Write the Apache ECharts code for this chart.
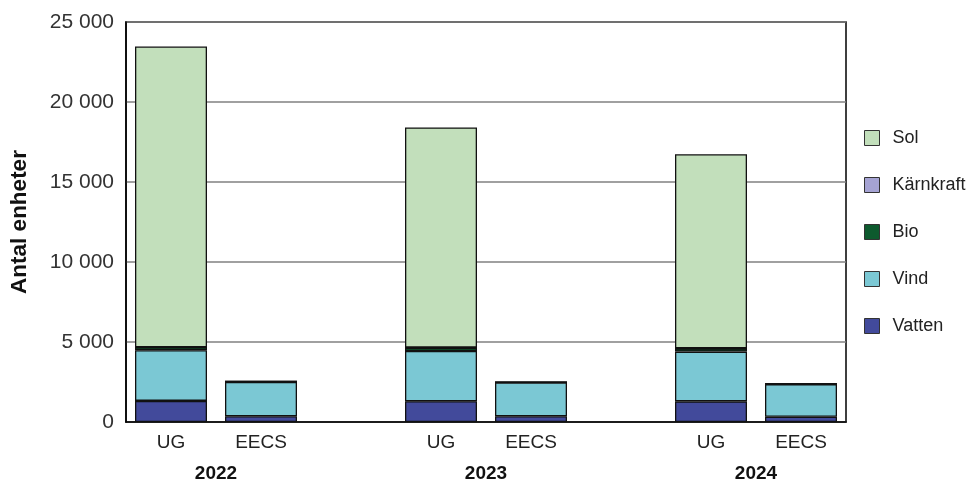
<!DOCTYPE html>
<html><head><meta charset="utf-8">
<script src="https://cdn.jsdelivr.net/npm/echarts@6/dist/echarts.min.js"></script>
<style>html,body{margin:0;padding:0;background:#fff}#c{width:977px;height:483px}</style>
</head><body><div id="c"></div>
<script>
const categories = ['UG','EECS','','UG','EECS','','UG','EECS'];
const years = ['2022','2023','2024'];
const yearSlots = [1,4,7];
const vatten    = [1320, 355, null, 1300, 355, null, 1290, 330];
const vind      = [3160, 2155, null, 3140, 2115, null, 3110, 2035];
const bio       = [190, 20, null, 210, 20, null, 200, 20];
const karnkraft = [0, 0, null, 0, 0, null, 0, 0];
const sol       = [18800, 0, null, 13760, 0, null, 12130, 0];
const yTicks = [0, 5000, 10000, 15000, 20000, 25000];

const font = 'Liberation Sans, Arial, Helvetica, sans-serif';
const colors = {Sol:'#c2dfbb', 'Kärnkraft':'#a5a3d3', Bio:'#0d5a2e', Vind:'#7bc8d4', Vatten:'#424a9b'};
function s(name, data){
  return {name, type:'bar', stack:'a', data, barWidth:'80%',
    itemStyle:{color:colors[name], borderColor:'#111', borderWidth:1.3}};
}
const chart = echarts.init(document.getElementById('c'));
chart.setOption({
  animation:false,
  grid:{left:123, right:131, top:22, bottom:59, show:true, borderColor:'#000', borderWidth:1.5},
  legend:{orient:'vertical', left:859, top:124, itemGap:29, itemWidth:15, itemHeight:15,
    data:['Sol','Kärnkraft','Bio','Vind','Vatten'],
    textStyle:{fontFamily:font, fontSize:18, color:'#222', padding:[0,0,0,8]},
    icon:'rect', itemStyle:{borderColor:'#333', borderWidth:1}},
  xAxis:[{type:'category', data:categories,
    axisLine:{lineStyle:{color:'#000', width:1.5}}, axisTick:{show:false},
    axisLabel:{fontFamily:font, fontSize:19, color:'#222', margin:11}},
   {type:'value', position:'bottom', min:0, max:8, interval:1, offset:34,
    axisLine:{show:false}, axisTick:{show:false}, splitLine:{show:false},
    axisLabel:{fontFamily:font, fontSize:19, fontWeight:'bold', color:'#111',
      showMinLabel:true, showMaxLabel:true,
      formatter:v=>{const i=yearSlots.indexOf(v);return i>=0?years[i]:'';}}}],
  yAxis:{type:'value', min:0, max:25000, interval:5000,
    name:'Antal enheter', nameLocation:'middle', nameGap:95,
    nameTextStyle:{fontFamily:font, fontSize:22.5, fontWeight:'bold', color:'#111'},
    axisLine:{show:true, lineStyle:{color:'#000', width:1.5}}, axisTick:{show:false},
    splitLine:{lineStyle:{color:'#808080', width:1.5}},
    axisLabel:{fontFamily:font, fontSize:21, color:'#333', margin:12,
      formatter:v=>v===0?'0':String(v).replace(/\B(?=(\d{3})+(?!\d))/g,' ')}},
  series:[s('Vatten',vatten), s('Vind',vind), s('Bio',bio), s('Kärnkraft',karnkraft), s('Sol',sol)]
});
</script></body></html>
